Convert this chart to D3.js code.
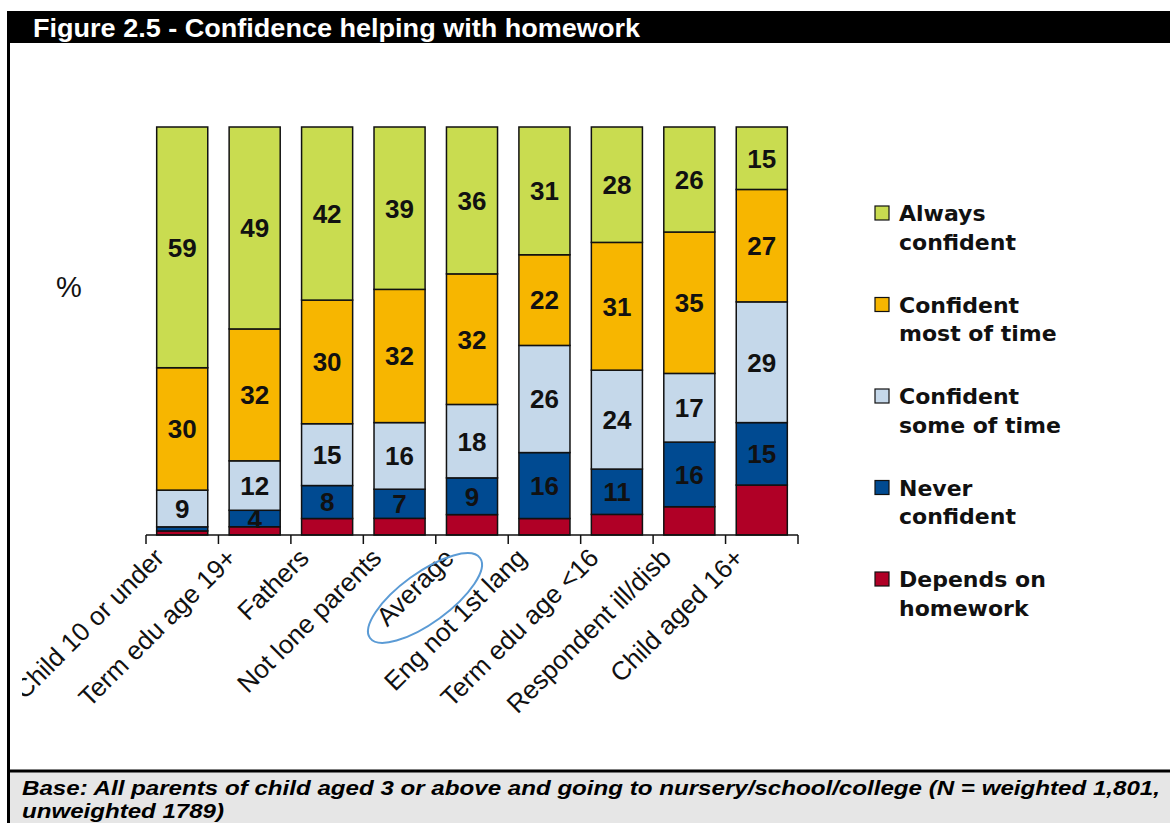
<!DOCTYPE html>
<html>
<head>
<meta charset="utf-8">
<script src="https://cdn.jsdelivr.net/npm/d3@7"></script>
<style>
  html, body { margin: 0; padding: 0; background: #fff; }
  svg { display: block; }
</style>
</head>
<body>
<svg id="chart" width="1170" height="823"></svg>
<script>
// Groups of parents, in chart order
const categories = [
  "Child 10 or under", "Term edu age 19+", "Fathers", "Not lone parents",
  "Average", "Eng not 1st lang", "Term edu age <16", "Respondent ill/disb", "Child aged 16+"
];

// Percentages for each confidence level (one value per category)
const alwaysConfident   = [59, 49, 42, 39, 36, 31, 28, 26, 15];
const mostOfTime        = [30, 32, 30, 32, 32, 22, 31, 35, 27];
const someOfTime        = [ 9, 12, 15, 16, 18, 26, 24, 17, 29];
const neverConfident    = [ 1,  4,  8,  7,  9, 16, 11, 16, 15];
const dependsOnHomework = [ 1,  2,  4,  4,  5,  4,  5,  7, 12];

// Series from bottom of the stack to the top
const seriesKeys   = ["depends", "never", "some", "most", "always"];
const seriesNames  = {
  always:  ["Always", "confident"],
  most:    ["Confident", "most of time"],
  some:    ["Confident", "some of time"],
  never:   ["Never", "confident"],
  depends: ["Depends on", "homework"]
};
const seriesColors = {
  always: "#c9dc50", most: "#f7b600", some: "#c5d8ea", never: "#004a91", depends: "#b00026"
};
const legendOrder = ["always", "most", "some", "never", "depends"];

const rows = categories.map((c, i) => ({
  category: c,
  always: alwaysConfident[i],
  most: mostOfTime[i],
  some: someOfTime[i],
  never: neverConfident[i],
  depends: dependsOnHomework[i]
}));

const svg = d3.select("#chart");

// ---- Frame: title bar, left rule, footer ----
svg.append("rect").attr("x", 7).attr("y", 11).attr("width", 1163).attr("height", 32).attr("fill", "#000");
svg.append("text")
  .attr("x", 33).attr("y", 37)
  .attr("fill", "#fff")
  .attr("font-family", "Liberation Sans, Arial, sans-serif")
  .attr("font-weight", "bold")
  .attr("font-size", 25)
  .attr("textLength", 607)
  .attr("lengthAdjust", "spacingAndGlyphs")
  .text("Figure 2.5 - Confidence helping with homework");

svg.append("rect").attr("x", 7).attr("y", 771).attr("width", 1163).attr("height", 52).attr("fill", "#e6e6e6");
svg.append("line").attr("x1", 7).attr("x2", 1170).attr("y1", 771).attr("y2", 771)
  .attr("stroke", "#000").attr("stroke-width", 3);
svg.append("line").attr("x1", 8.5).attr("x2", 8.5).attr("y1", 11).attr("y2", 823)
  .attr("stroke", "#000").attr("stroke-width", 3);

const foot = svg.append("g")
  .attr("font-family", "Liberation Sans, Arial, sans-serif")
  .attr("font-weight", "bold")
  .attr("font-style", "italic")
  .attr("font-size", 21)
  .attr("fill", "#000");
foot.append("text").attr("x", 22).attr("y", 795)
  .attr("textLength", 1138).attr("lengthAdjust", "spacingAndGlyphs")
  .text("Base: All parents of child aged 3 or above and going to nursery/school/college (N = weighted 1,801,");
foot.append("text").attr("x", 22).attr("y", 818)
  .attr("textLength", 202).attr("lengthAdjust", "spacingAndGlyphs")
  .text("unweighted 1789)");

// ---- Scales ----
const x = d3.scaleBand()
  .domain(categories)
  .range([146, 798])
  .paddingInner(0.295)
  .paddingOuter(0.1475);

const y = d3.scaleLinear().domain([0, 1]).range([535, 127]);

const stack = d3.stack().keys(seriesKeys).offset(d3.stackOffsetExpand);
const stacked = stack(rows);

// ---- Bars ----
const layers = svg.append("g").selectAll("g")
  .data(stacked)
  .join("g")
  .attr("fill", d => seriesColors[d.key]);

layers.selectAll("rect")
  .data(d => d)
  .join("rect")
  .attr("x", d => x(d.data.category))
  .attr("width", x.bandwidth())
  .attr("y", d => y(d[1]))
  .attr("height", d => y(d[0]) - y(d[1]))
  .attr("stroke", "#111")
  .attr("stroke-width", 1.5);

// ---- Value labels ----
const labelled = { always: 0, most: 0, some: 0, never: 3 };
stacked.forEach(layer => {
  if (!(layer.key in labelled)) return;
  svg.append("g").selectAll("text")
    .data(layer.filter(d => d.data[layer.key] >= labelled[layer.key]))
    .join("text")
    .attr("x", d => x(d.data.category) + x.bandwidth() / 2)
    .attr("y", d => (y(d[0]) + y(d[1])) / 2)
    .attr("dy", "0.36em")
    .attr("text-anchor", "middle")
    .attr("font-family", "Liberation Sans, Arial, sans-serif")
    .attr("font-weight", "bold")
    .attr("font-size", 26)
    .attr("fill", "#111")
    .text(d => d.data[layer.key]);
});

// ---- Category axis ----
const axis = svg.append("g");
axis.append("line")
  .attr("x1", x.range()[0]).attr("x2", x.range()[1])
  .attr("y1", 535).attr("y2", 535)
  .attr("stroke", "#111").attr("stroke-width", 1.5);

const gap = (x.step() - x.bandwidth()) / 2;
const boundaries = categories.map(c => x(c) - gap).concat([x.range()[1]]);
axis.selectAll("line.tick")
  .data(boundaries)
  .join("line")
  .attr("class", "tick")
  .attr("x1", d => d).attr("x2", d => d)
  .attr("y1", 535).attr("y2", 544)
  .attr("stroke", "#111").attr("stroke-width", 1.5);

svg.append("clipPath").attr("id", "labelClip")
  .append("rect").attr("x", 22).attr("y", 536).attr("width", 1000).attr("height", 230);

const catLabels = svg.append("g").attr("clip-path", "url(#labelClip)");
catLabels.selectAll("text")
  .data(categories)
  .join("text")
  .attr("transform", d => `translate(${x(d) + x.bandwidth() / 2 - 23},${553}) rotate(-45)`)
  .attr("text-anchor", "end")
  .attr("dy", "0.35em")
  .attr("font-family", "Liberation Sans, Arial, sans-serif")
  .attr("font-size", 26)
  .attr("fill", "#111")
  .text(d => d);

// Highlight ring around the overall average
const avgX = x("Average") + x.bandwidth() / 2;
svg.append("ellipse")
  .attr("transform", `translate(${avgX - 47},${598}) rotate(-36)`)
  .attr("rx", 68).attr("ry", 25)
  .attr("fill", "none")
  .attr("stroke", "#5b9bd5")
  .attr("stroke-width", 2);

// Axis unit
svg.append("text")
  .attr("x", 56).attr("y", 297)
  .attr("font-family", "Liberation Sans, Arial, sans-serif")
  .attr("font-size", 29)
  .attr("fill", "#111")
  .text("%");

// ---- Legend ----
const legend = svg.append("g");
legendOrder.forEach((key, i) => {
  const base = 221 + i * 91.5;
  legend.append("rect")
    .attr("x", 875).attr("y", base - 15)
    .attr("width", 14).attr("height", 14)
    .attr("fill", seriesColors[key])
    .attr("stroke", "#111").attr("stroke-width", 1.2);
  const t = legend.append("text")
    .attr("font-family", "DejaVu Sans, Verdana, sans-serif")
    .attr("font-weight", "bold")
    .attr("font-size", 22)
    .attr("fill", "#111");
  seriesNames[key].forEach((line, j) => {
    t.append("tspan").attr("x", 899).attr("y", base + j * 28.5).text(line);
  });
});
</script>
</body>
</html>
